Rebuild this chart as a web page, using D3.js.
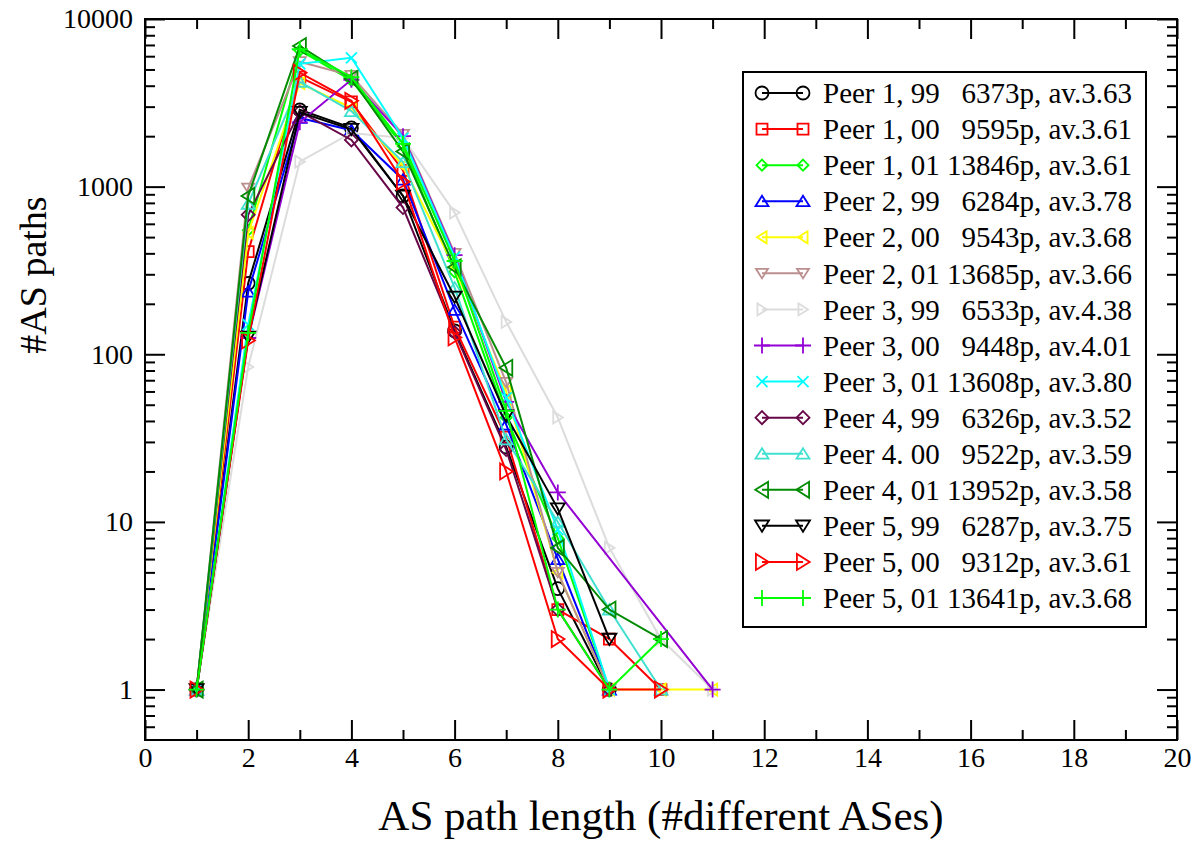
<!DOCTYPE html>
<style>
body { margin: 0; background: #fff; }
text { font-family: 'Liberation Serif', 'Times New Roman', serif; }
</style>
<svg width="1195" height="844"></svg>
<script src="https://d3js.org/d3.v7.min.js"></script>
<script>
// path lengths 1..11, null = no paths of that length
var lengths = [1, 2, 3, 4, 5, 6, 7, 8, 9, 10, 11];

var peer1_99 = [1, 265, 2870, 2240, 880, 138, 28, 4, 1, null, null];
var peer1_00 = [1, 410, 4500, 3200, 1250, 145, 32, 3, 2, 1, null];
var peer1_01 = [1, 550, 6500, 4300, 1750, 310, 42, 8, 1, null, null];
var peer2_99 = [1, 236, 2570, 2170, 1100, 184, 38, 6, 1, null, null];
var peer2_00 = [1, 530, 4150, 2950, 1330, 330, 60, 5, 1, 1, 1];
var peer2_01 = [1, 980, 5560, 4600, 2050, 400, 68, 5, 1, null, null];
var peer3_99 = [1, 84, 1410, 2090, 1950, 700, 156, 42, 7, 2, 1];
var peer3_00 = [1, 125, 2420, 4340, 2000, 390, 52, 15, null, null, 1];
var peer3_01 = [1, 150, 5400, 5870, 1950, 380, 55, 9, 1, null, null];
var peer4_99 = [1, 680, 2800, 1900, 750, 135, 27, 3, 1, null, null];
var peer4_00 = [1, 790, 4220, 2820, 1400, 250, 31, 10, 3, 1, null];
var peer4_01 = [1, 880, 6900, 4400, 1620, 330, 83, 7, 3, 2, null];
var peer5_99 = [1, 127, 2780, 2200, 880, 220, 43, 12, 2, null, null];
var peer5_00 = [1, 121, 4780, 3250, 1070, 126, 20, 2, 1, 1, null];
var peer5_01 = [1, 134, 6600, 4500, 1800, 360, 46, 3, 1, 2, null];

var seriesNames = ["Peer 1, 99", "Peer 1, 00", "Peer 1, 01", "Peer 2, 99", "Peer 2, 00", "Peer 2, 01",
                   "Peer 3, 99", "Peer 3, 00", "Peer 3, 01", "Peer 4, 99", "Peer 4. 00", "Peer 4, 01",
                   "Peer 5, 99", "Peer 5, 00", "Peer 5, 01"];
var seriesStats = ["6373p, av.3.63", "9595p, av.3.61", "13846p, av.3.61", "6284p, av.3.78", "9543p, av.3.68",
                   "13685p, av.3.66", "6533p, av.4.38", "9448p, av.4.01", "13608p, av.3.80", "6326p, av.3.52",
                   "9522p, av.3.59", "13952p, av.3.58", "6287p, av.3.75", "9312p, av.3.61", "13641p, av.3.68"];
var seriesValues = [peer1_99, peer1_00, peer1_01, peer2_99, peer2_00, peer2_01, peer3_99, peer3_00, peer3_01,
                    peer4_99, peer4_00, peer4_01, peer5_99, peer5_00, peer5_01];

var xTicks = [0, 2, 4, 6, 8, 10, 12, 14, 16, 18, 20];
var yTicks = [1, 10, 100, 1000, 10000];

// styling
var colors = ["#000000", "#ff0000", "#00ff00", "#0000ff", "#ffff00", "#bc8f8f", "#dcdcdc", "#9400d3",
              "#00ffff", "#670748", "#40e0d0", "#008b00", "#000000", "#ff0000", "#00ff00"];
var symbols = ["circle", "square", "diamond", "up", "left", "down", "right", "plus", "cross",
               "diamond", "up", "left", "down", "right", "plus"];
var sizes = [13, 11, 11, 13, 12, 12, 12, 16, 11, 13, 13, 16, 14, 16, 16];

var svg = d3.select("svg"),
    margin = {top: 19, right: 18, bottom: 104, left: 145},
    width = +svg.attr("width") - margin.left - margin.right,
    height = +svg.attr("height") - margin.top - margin.bottom,
    g = svg.append("g").attr("transform", "translate(" + margin.left + "," + margin.top + ")");

var x = d3.scaleLinear().domain([0, 20]).range([0, width]);
var y = d3.scaleLog().domain([0.5, 10000]).range([height, 0]);

function symbolPath(type, s) {
  var h = s / 2;
  switch (type) {
    case "circle": return "M" + h + ",0A" + h + "," + h + " 0 1,1 " + (-h) + ",0A" + h + "," + h + " 0 1,1 " + h + ",0Z";
    case "square": return "M" + (-h) + "," + (-h) + "H" + h + "V" + h + "H" + (-h) + "Z";
    case "diamond": return "M0," + (-h) + "L" + h + ",0L0," + h + "L" + (-h) + ",0Z";
    case "up": return "M0," + (-0.42 * s) + "L" + h + "," + (0.38 * s) + "L" + (-h) + "," + (0.38 * s) + "Z";
    case "down": return "M0," + (0.42 * s) + "L" + h + "," + (-0.38 * s) + "L" + (-h) + "," + (-0.38 * s) + "Z";
    case "left": return "M" + (-0.42 * s) + ",0L" + (0.38 * s) + "," + h + "L" + (0.38 * s) + "," + (-h) + "Z";
    case "right": return "M" + (0.42 * s) + ",0L" + (-0.38 * s) + "," + h + "L" + (-0.38 * s) + "," + (-h) + "Z";
    case "plus": return "M" + (-h) + ",0H" + h + "M0," + (-h) + "V" + h;
    case "cross": return "M" + (-h) + "," + (-h) + "L" + h + "," + h + "M" + (-h) + "," + h + "L" + h + "," + (-h);
  }
}

// series
var line = d3.line()
    .defined(function(d) { return d.v != null; })
    .x(function(d) { return x(d.k); })
    .y(function(d) { return y(d.v); });

seriesValues.forEach(function(vals, i) {
  var pts = lengths.map(function(k, j) { return {k: k, v: vals[j]}; });
  var shown = pts.filter(function(d) { return d.v != null; });
  var sg = g.append("g");
  sg.append("path")
      .datum(shown)
      .attr("fill", "none")
      .attr("stroke", colors[i])
      .attr("stroke-width", 2)
      .attr("d", line);
  sg.selectAll("path.m")
    .data(shown)
    .enter().append("path")
      .attr("class", "m")
      .attr("transform", function(d) { return "translate(" + x(d.k) + "," + y(d.v) + ")"; })
      .attr("d", symbolPath(symbols[i], sizes[i]))
      .attr("fill", "none")
      .attr("stroke", colors[i])
      .attr("stroke-width", 1.8);
});

// axes: major and minor ticks on all four sides, pointing inward
var xMinor = d3.range(0, 21, 1).filter(function(d) { return d % 2 !== 0; });
var yMinor = [];
[0.1, 1, 10, 100, 1000].forEach(function(dec) {
  for (var m = 2; m <= 9; m++) {
    var v = dec * m;
    if (v > 0.5 && v < 10000) yMinor.push(v);
  }
});

function styleAxis(sel) {
  sel.select(".domain").remove();
  sel.selectAll("line").attr("stroke", "#000").attr("stroke-width", 2);
  sel.selectAll("text").attr("font-size", 28).attr("fill", "#000")
     .attr("font-family", "'Liberation Serif', serif");
}

g.append("g").attr("transform", "translate(0," + height + ")")
    .call(d3.axisBottom(x).tickValues(xTicks).tickSize(-20).tickPadding(7).tickFormat(d3.format("d")))
    .call(styleAxis);
g.append("g").attr("transform", "translate(0," + height + ")")
    .call(d3.axisBottom(x).tickValues(xMinor).tickSize(-10).tickFormat(""))
    .call(styleAxis);
g.append("g")
    .call(d3.axisTop(x).tickValues(xTicks).tickSize(-20).tickFormat(""))
    .call(styleAxis);
g.append("g")
    .call(d3.axisTop(x).tickValues(xMinor).tickSize(-10).tickFormat(""))
    .call(styleAxis);

g.append("g")
    .call(d3.axisLeft(y).tickValues(yTicks).tickSize(-20).tickPadding(12).tickFormat(d3.format("d")))
    .call(styleAxis);
g.append("g")
    .call(d3.axisLeft(y).tickValues(yMinor).tickSize(-10).tickFormat(""))
    .call(styleAxis);
g.append("g").attr("transform", "translate(" + width + ",0)")
    .call(d3.axisRight(y).tickValues(yTicks).tickSize(-20).tickFormat(""))
    .call(styleAxis);
g.append("g").attr("transform", "translate(" + width + ",0)")
    .call(d3.axisRight(y).tickValues(yMinor).tickSize(-10).tickFormat(""))
    .call(styleAxis);

g.append("rect")
    .attr("width", width)
    .attr("height", height)
    .attr("fill", "none")
    .attr("stroke", "#000")
    .attr("stroke-width", 2);

// axis titles
svg.append("text")
    .attr("x", margin.left + width / 2)
    .attr("y", 830)
    .attr("text-anchor", "middle")
    .attr("font-size", 43)
    .text("AS path length (#different ASes)");

svg.append("text")
    .attr("transform", "translate(46,275) rotate(-90)")
    .attr("text-anchor", "middle")
    .attr("font-size", 38)
    .text("#AS paths");

// legend
var legend = svg.append("g").attr("transform", "translate(743,72)");
legend.append("rect")
    .attr("width", 403)
    .attr("height", 555)
    .attr("fill", "#fff")
    .attr("stroke", "#000")
    .attr("stroke-width", 2);

var rows = legend.selectAll("g.row")
    .data(seriesNames)
    .enter().append("g")
      .attr("class", "row")
      .attr("transform", function(d, i) { return "translate(0," + (21 + i * 36.07) + ")"; });

rows.append("line")
    .attr("x1", 19).attr("x2", 60)
    .attr("stroke", function(d, i) { return colors[i]; })
    .attr("stroke-width", 2);
[19, 60].forEach(function(mx) {
  rows.append("path")
      .attr("transform", "translate(" + mx + ",0)")
      .attr("d", function(d, i) { return symbolPath(symbols[i], sizes[i]); })
      .attr("fill", "none")
      .attr("stroke", function(d, i) { return colors[i]; })
      .attr("stroke-width", 1.8);
});
rows.append("text")
    .attr("x", 80)
    .attr("dy", "0.35em")
    .attr("font-size", 29)
    .text(function(d) { return d; });
rows.append("text")
    .attr("x", 389)
    .attr("dy", "0.35em")
    .attr("text-anchor", "end")
    .attr("font-size", 29)
    .text(function(d, i) { return seriesStats[i]; });
</script>
